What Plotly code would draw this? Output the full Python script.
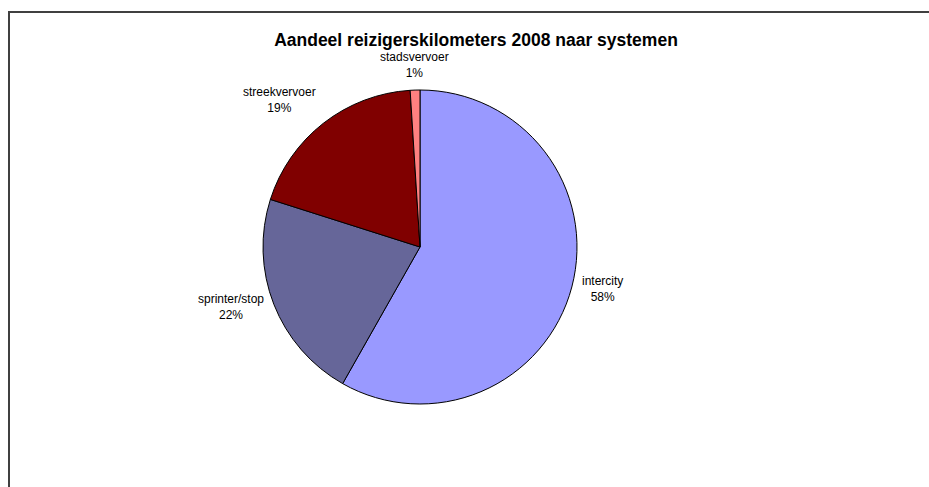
import math
import plotly.graph_objects as go

labels = ["intercity", "sprinter/stop", "streekvervoer", "stadsvervoer"]
values = [58.2, 21.7, 19.1, 1.0]
colors = ["#9999FF", "#666699", "#800000", "#FF8080"]
title = "Aandeel reizigerskilometers 2008 naar systemen"

W, H = 929, 487
cx, cy, r = 420, 247, 157
FONT = "Liberation Sans, Arial, sans-serif"

fig = go.Figure(go.Pie(
    labels=labels,
    values=values,
    sort=False,
    direction="clockwise",
    rotation=0,
    marker=dict(colors=colors, line=dict(color="black", width=1)),
    textinfo="none",
    domain=dict(x=[(cx - r) / W, (cx + r) / W], y=[(H - cy - r) / H, (H - cy + r) / H]),
    showlegend=False,
    hoverinfo="label+percent",
))

# data labels placed just outside each slice, at the slice's mid angle
total = sum(values)
annotations = []
cum = 0.0
gap = 8
for lab, v in zip(labels, values):
    mid = (cum + v / 2) / total * 2 * math.pi
    cum += v
    s, c = math.sin(mid), math.cos(mid)
    px = cx + (r + gap) * s
    py = cy - (r + gap) * c
    xa = "left" if s > 0.3 else ("right" if s < -0.3 else "center")
    ya = "bottom" if c > 0.5 else ("top" if c < -0.5 else "middle")
    annotations.append(dict(
        x=px / W, y=1 - py / H, xref="paper", yref="paper",
        xanchor=xa, yanchor=ya, align="center", showarrow=False,
        text=f"{lab}<br>{round(v / total * 100)}%",
        font=dict(family=FONT, size=12, color="black"),
    ))

fig.update_layout(
    width=W, height=H,
    margin=dict(l=0, r=0, t=0, b=0),
    paper_bgcolor="white",
    plot_bgcolor="white",
    title=dict(text="<b>" + title + "</b>", x=476 / W, xanchor="center", y=1 - 40 / H, yanchor="middle",
               font=dict(family=FONT, size=17.5, color="black")),
    annotations=annotations,
    shapes=[
        dict(type="line", xref="paper", yref="paper", x0=8 / W, x1=1, y0=1 - 12 / H, y1=1 - 12 / H,
             line=dict(color="#404040", width=2)),
        dict(type="line", xref="paper", yref="paper", x0=9 / W, x1=9 / W, y0=0, y1=1 - 12 / H,
             line=dict(color="#404040", width=2)),
    ],
)

fig.write_html(
    "out.html",
    config={"displayModeBar": False},
    post_script="document.body.style.margin='0';document.body.style.overflow='hidden';",
)
